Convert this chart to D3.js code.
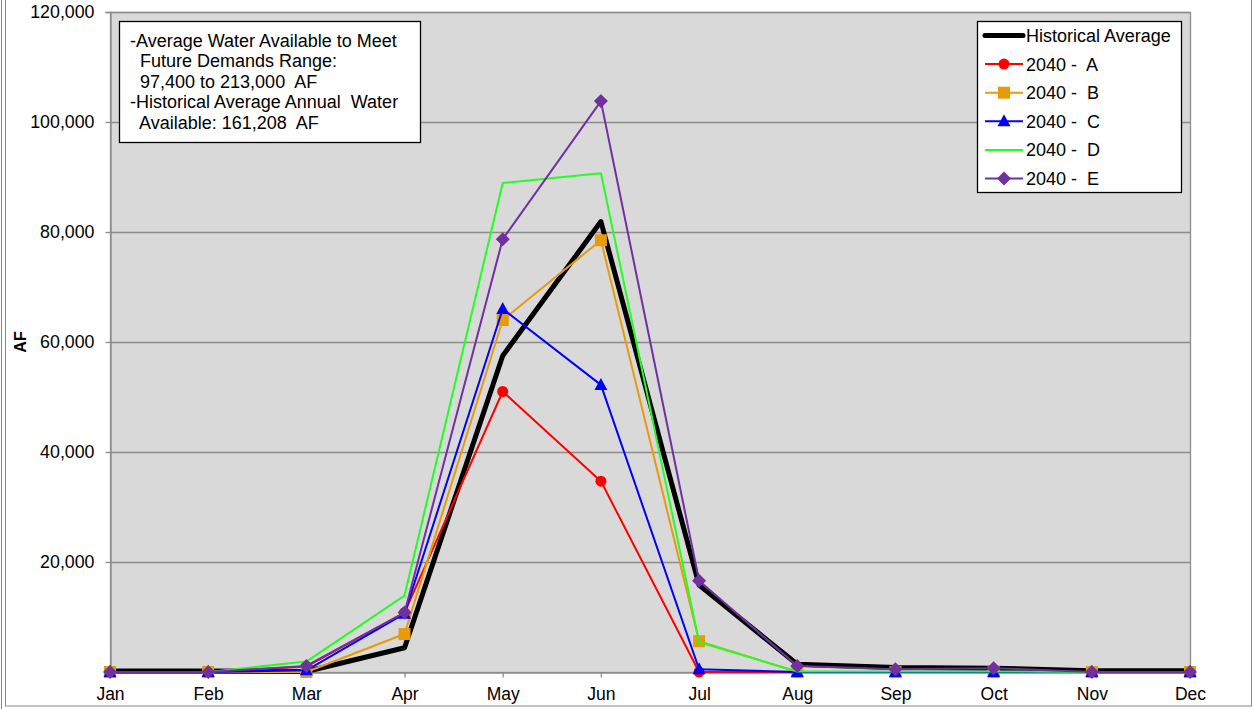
<!DOCTYPE html>
<html>
<head>
<meta charset="utf-8">
<script src="https://cdn.jsdelivr.net/npm/d3@7"></script>
<style>
  html, body { margin: 0; padding: 0; background: #ffffff; }
  svg { display: block; font-family: "Liberation Sans", Arial, sans-serif; }
</style>
</head>
<body>
<svg id="chart" width="1254" height="709"></svg>
<script>
// ---- data ----
const months = ["Jan","Feb","Mar","Apr","May","Jun","Jul","Aug","Sep","Oct","Nov","Dec"];
const historical = [200, 200, 100, 4400, 57500, 81900, 15800, 1400, 800, 700, 250, 250];
const s2040A = [0, 0, 1000, 10800, 51000, 34700, 0, 0, 0, 0, 0, 0];
const s2040B = [0, 0, 0, 6900, 64000, 78500, 5600, 0, 0, 0, 0, 0];
const s2040C = [0, 0, 300, 10600, 66000, 52200, 500, 0, 0, 0, 0, 0];
const s2040D = [0, 0, 1900, 13900, 88900, 90700, 5400, 100, 100, 100, 0, 0];
const s2040E = [0, 0, 1100, 10800, 78700, 103800, 16600, 1100, 500, 700, 0, 0];
const yTicks = [20000, 40000, 60000, 80000, 100000, 120000];
const seriesNames = ["Historical Average", "2040 -  A", "2040 -  B", "2040 -  C", "2040 -  D", "2040 -  E"];
const noteLines = [
  "-Average Water Available to Meet",
  "  Future Demands Range:",
  "  97,400 to 213,000  AF",
  "-Historical Average Annual  Water",
  "  Available: 161,208  AF"
];

const seriesStyle = [
  { color: "#000000", width: 5, marker: null },
  { color: "#ff0000", width: 2, marker: "circle" },
  { color: "#e69b0c", width: 2, marker: "square" },
  { color: "#0000ff", width: 2, marker: "triangle" },
  { color: "#22ff22", width: 2, marker: null },
  { color: "#7030a0", width: 2, marker: "diamond" }
];
const seriesData = [historical, s2040A, s2040B, s2040C, s2040D, s2040E];

const svg = d3.select("#chart");
const pLeft = 110, pRight = 1190, pTop = 12, pBottom = 672;

// outer frame
svg.append("line").attr("x1", 1.5).attr("x2", 1.5).attr("y1", 0).attr("y2", 709).attr("stroke", "#888").attr("stroke-width", 1);
svg.append("rect").attr("x", 5.5).attr("y", -2).attr("width", 1246).attr("height", 708)
  .attr("fill", "none").attr("stroke", "#888").attr("stroke-width", 1);

const x = d3.scalePoint().domain(months).range([pLeft, pRight]).padding(0);
const y = d3.scaleLinear().domain([0, 120000]).range([pBottom, pTop]);

// plot area
svg.append("rect").attr("x", pLeft).attr("y", pTop).attr("width", pRight - pLeft).attr("height", pBottom - pTop)
  .attr("fill", "#d9d9d9");

// gridlines
svg.append("g").selectAll("line").data(yTicks).join("line")
  .attr("x1", pLeft).attr("x2", pRight)
  .attr("y1", d => Math.round(y(d)) + 0.5).attr("y2", d => Math.round(y(d)) + 0.5)
  .attr("stroke", "#8c8c8c").attr("stroke-width", 1.3);

svg.append("rect").attr("x", pLeft + 0.5).attr("y", pTop + 0.5).attr("width", pRight - pLeft).attr("height", pBottom - pTop)
  .attr("fill", "none").attr("stroke", "#8c8c8c").attr("stroke-width", 1.3);

// axes
const fmt = d3.format(",");
const yAxis = d3.axisLeft(y).tickValues([0].concat(yTicks)).tickSize(5).tickPadding(11)
  .tickFormat(d => d === 0 ? "" : fmt(d));
const gy = svg.append("g").attr("transform", `translate(${pLeft + 0.5},0)`).call(yAxis);
gy.select(".domain").attr("stroke", "#8c8c8c").attr("stroke-width", 1.3);
gy.selectAll(".tick line").attr("stroke", "#8c8c8c").attr("stroke-width", 1.3);
gy.selectAll(".tick text").attr("font-size", 17.8).attr("fill", "#000").attr("font-family", "Liberation Sans, Arial, sans-serif");

const xAxis = d3.axisBottom(x).tickSize(5).tickPadding(10);
const gx = svg.append("g").attr("transform", `translate(0,${pBottom + 0.5})`).call(xAxis);
gx.select(".domain").attr("stroke", "#8c8c8c").attr("stroke-width", 1.3);
gx.selectAll(".tick line").attr("stroke", "#8c8c8c").attr("stroke-width", 1.3);
gx.selectAll(".tick text").attr("font-size", 17.5).attr("fill", "#000").attr("font-family", "Liberation Sans, Arial, sans-serif");

// y label
svg.append("text").attr("transform", `translate(25.5,${(pTop + pBottom) / 2}) rotate(-90)`)
  .attr("text-anchor", "middle").attr("font-size", 16).attr("font-weight", "bold").text("AF");

// markers
function drawMarker(g, type, cx, cy, color) {
  if (type === "circle") {
    g.append("circle").attr("cx", cx).attr("cy", cy).attr("r", 5.5).attr("fill", color);
  } else if (type === "square") {
    g.append("rect").attr("x", cx - 6).attr("y", cy - 6).attr("width", 12).attr("height", 12).attr("fill", color);
  } else if (type === "triangle") {
    g.append("path").attr("d", `M${cx},${cy - 7}L${cx + 6.5},${cy + 5}L${cx - 6.5},${cy + 5}Z`).attr("fill", color);
  } else if (type === "diamond") {
    g.append("path").attr("d", `M${cx},${cy - 7}L${cx + 7},${cy}L${cx},${cy + 7}L${cx - 7},${cy}Z`).attr("fill", color);
  }
}

const line = d3.line().x((d, i) => x(months[i])).y(d => y(d));
seriesData.forEach((vals, si) => {
  const st = seriesStyle[si];
  const g = svg.append("g");
  g.append("path").attr("d", line(vals)).attr("fill", "none")
    .attr("stroke", st.color).attr("stroke-width", st.width).attr("stroke-linejoin", "round");
  if (st.marker) {
    vals.forEach((v, i) => drawMarker(g, st.marker, x(months[i]), y(v), st.color));
  }
});

// annotation box
const nb = svg.append("g");
nb.append("rect").attr("x", 119.5).attr("y", 21.5).attr("width", 301).attr("height", 121)
  .attr("fill", "#fff").attr("stroke", "#000").attr("stroke-width", 1.3);
nb.selectAll("text").data(noteLines).join("text")
  .attr("x", 130).attr("y", (d, i) => 46.5 + i * 20.6)
  .attr("font-size", 18).attr("fill", "#000")
  .style("white-space", "pre").attr("xml:space", "preserve")
  .text(d => d);

// legend
const lg = svg.append("g");
lg.append("rect").attr("x", 977.5).attr("y", 21.5).attr("width", 204).attr("height", 171)
  .attr("fill", "#fff").attr("stroke", "#000").attr("stroke-width", 1.3);
seriesNames.forEach((name, i) => {
  const cy = 35.5 + i * 28.6;
  const st = seriesStyle[i];
  lg.append("line").attr("x1", 985).attr("x2", 1023).attr("y1", cy).attr("y2", cy)
    .attr("stroke", st.color).attr("stroke-width", st.width).attr("stroke-linecap", i === 0 ? "round" : "butt");
  if (st.marker) drawMarker(lg, st.marker, 1004, cy, st.color);
  lg.append("text").attr("x", 1026).attr("y", cy + 6.5).attr("font-size", 18)
    .style("white-space", "pre").attr("xml:space", "preserve").text(name);
});
</script>
</body>
</html>
